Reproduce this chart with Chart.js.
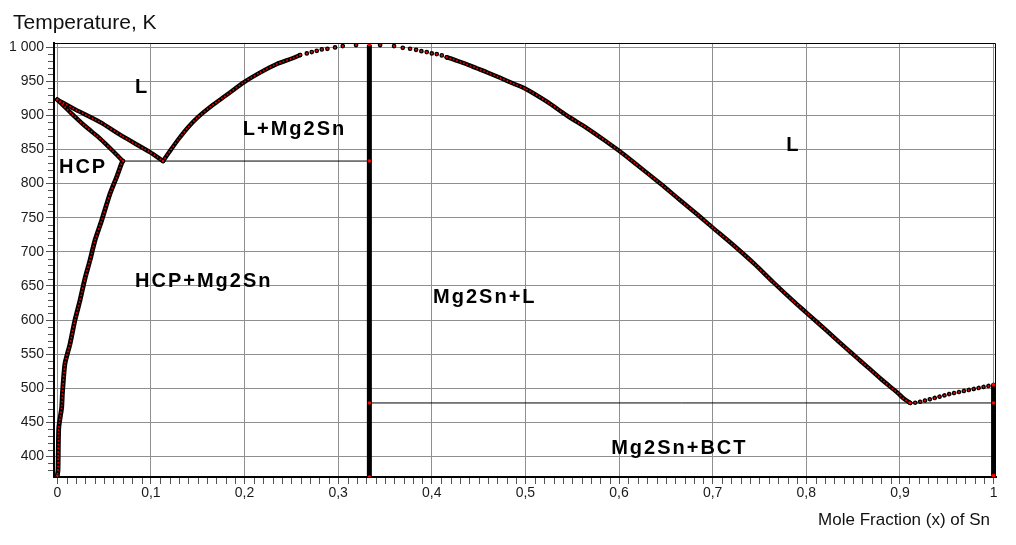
<!DOCTYPE html>
<html><head><meta charset="utf-8">
<script src="https://cdn.jsdelivr.net/npm/chart.js@4.4.1/dist/chart.umd.min.js"></script>
<style>html,body{margin:0;padding:0;background:#fff}#wrap{width:1016px;height:545px;position:relative}</style>
</head><body><div id="wrap"><canvas id="c"></canvas></div>
<script>
// ---- tick values / labels ----
const xTickVals = [0,0.1,0.2,0.3,0.4,0.5,0.6,0.7,0.8,0.9,1];
const xTickLabels = ['0','0,1','0,2','0,3','0,4','0,5','0,6','0,7','0,8','0,9','1'];
const yTickVals = [400,450,500,550,600,650,700,750,800,850,900,950,1000];
const yTickLabels = ['400','450','500','550','600','650','700','750','800','850','900','950','1 000'];

// ---- phase boundaries (mole fraction Sn, temperature K) ----
const liqMgX = [0, 0.02, 0.0457, 0.07, 0.099, 0.113];
const liqMgT = [923, 908, 890, 869, 846, 833];

const solHcpX = [0, 0.015, 0.03, 0.0457, 0.06, 0.07];
const solHcpT = [923, 903, 884, 866, 847, 833];

const solvHcpX = [0.07, 0.0688, 0.0635, 0.0563, 0.0474, 0.0403, 0.035, 0.0296, 0.0243, 0.0189, 0.0136, 0.0082, 0.0055, 0.0047, 0.0016, 0.0008, 0];
const solvHcpT = [833, 830, 810, 785, 746, 717, 688, 661, 629, 600, 565, 536, 493, 472, 442, 380, 372];

const liqLeftX = [0.113, 0.12, 0.13, 0.14, 0.15, 0.165, 0.18, 0.2, 0.217, 0.234, 0.252, 0.2593];
const liqLeftT = [833, 847, 866, 883, 897, 914, 929, 949, 963, 975, 984, 988.3];

const archX = [0.2593, 0.2665, 0.2718, 0.2771, 0.2825, 0.2885, 0.2967, 0.3049, 0.3191, 0.3448, 0.3597, 0.369, 0.3768, 0.3832, 0.3889, 0.3946, 0.40, 0.4053, 0.4107, 0.416];
const archT = [988.3, 990.7, 992.7, 994.6, 996.6, 997.5, 999.5, 1001.5, 1003, 1003, 1001.5, 999, 997.6, 996, 994, 992.7, 990.7, 989.7, 987.8, 985];

const liqSnX = [0.416, 0.42, 0.427, 0.436, 0.448, 0.46, 0.473, 0.487, 0.5, 0.523, 0.544, 0.566, 0.587, 0.6, 0.615, 0.644, 0.665, 0.683, 0.7, 0.722, 0.744, 0.765, 0.786, 0.8, 0.822, 0.843, 0.858, 0.868, 0.882, 0.897, 0.904, 0.911];
const liqSnT = [985, 983.4, 980, 975.5, 969, 962.5, 955, 946.5, 939, 920, 900, 881, 861, 848, 832, 800, 776, 755.5, 735.5, 710, 683, 655, 628, 611, 584, 558, 540, 528, 511, 494, 485, 478.5];

const liqBctX = [0.911, 0.918, 0.932, 0.954, 0.975, 0.9965, 1.0];
const liqBctT = [478.5, 479, 484, 492, 498, 504, 505];

const mg2snX = [1/3, 1/3, 1/3, 1/3];
const mg2snT = [1003.4, 833, 478.5, 370];

const snX = [1, 1, 1];
const snT = [505, 478.5, 372];

const eut1X = [0.07, 1/3];
const eut1T = [833, 833];
const eut2X = [1/3, 1];
const eut2T = [478.5, 478.5];

// ---- region labels (left, baseline in data units) ----
const regionLabels = [
  {text: 'L', x: 0.083, t: 932.5},
  {text: 'L+Mg2Sn', x: 0.1981, t: 870.9},
  {text: 'HCP', x: 0.0018, t: 815.2},
  {text: 'HCP+Mg2Sn', x: 0.083, t: 648},
  {text: 'Mg2Sn+L', x: 0.4014, t: 624.5},
  {text: 'L', x: 0.7785, t: 847.4},
  {text: 'Mg2Sn+BCT', x: 0.5916, t: 403}
];

const FONT = 'Arial, "Liberation Sans", sans-serif';
const pts = (xs, ts) => xs.map((x, i) => ({x: x, y: ts[i]}));
const ends = (ctx) => (ctx.dataIndex === 0 || ctx.dataIndex === ctx.dataset.data.length - 1) ? 1.7 : 0;

function solidCurve(xs, ts, w, tens) {
  return {data: pts(xs, ts), showLine: true, borderColor: '#000', borderWidth: w || 4.4,
    tension: tens === undefined ? 0.3 : tens,
    borderCapStyle: 'round', borderJoinStyle: 'round', pointRadius: ends,
    pointBackgroundColor: '#ff0000', pointBorderColor: '#000', pointBorderWidth: 1, order: 4};
}
function redSpecks(xs, ts, tens) {
  return {data: pts(xs, ts), showLine: true, borderColor: '#ee0000', borderWidth: 1.9,
    tension: tens === undefined ? 0.3 : tens,
    borderCapStyle: 'round', borderDash: [0.01, 3.6], pointRadius: 0, order: 2};
}

const datasets = [
  {data: pts(eut1X, eut1T), showLine: true, borderColor: '#000', borderWidth: 1, pointRadius: 0, order: 6},
  {data: pts(eut2X, eut2T), showLine: true, borderColor: '#000', borderWidth: 1, pointRadius: 0, order: 6},
  solidCurve(liqMgX, liqMgT, 4.4, 0.2), redSpecks(liqMgX, liqMgT, 0.2),
  solidCurve(solHcpX, solHcpT, 4.4, 0.2), redSpecks(solHcpX, solHcpT, 0.2),
  solidCurve(solvHcpX, solvHcpT, 4.8, 0.2), redSpecks(solvHcpX, solvHcpT, 0.2),
  solidCurve(liqLeftX, liqLeftT), redSpecks(liqLeftX, liqLeftT),
  solidCurve(liqSnX, liqSnT), redSpecks(liqSnX, liqSnT),
  {data: pts(archX, archT), showLine: false, pointRadius: 1.7, pointBorderWidth: 1.3,
   pointBackgroundColor: '#ff0000', pointBorderColor: '#000', order: 1},
  {data: pts(liqBctX, liqBctT), showLine: true, borderColor: '#000', borderWidth: 4.6,
   borderCapStyle: 'round', borderDash: [0.01, 5], pointRadius: 0, order: 4},
  {data: pts(liqBctX, liqBctT), showLine: true, borderColor: '#ff0000', borderWidth: 1.9,
   borderCapStyle: 'round', borderDash: [0.01, 5], pointRadius: 0, order: 2},
  {data: pts(mg2snX, mg2snT), showLine: true, borderColor: '#000', borderWidth: 5, pointRadius: 1.8,
   pointBackgroundColor: '#ff0000', pointBorderColor: '#ff0000', pointBorderWidth: 0, order: 3},
  {data: pts(snX, snT), showLine: true, borderColor: '#000', borderWidth: 5, pointRadius: 1.8,
   pointBackgroundColor: '#ff0000', pointBorderColor: '#ff0000', pointBorderWidth: 0, order: 3}
];

const decor = {
  id: 'decor',
  afterDraw(chart) {
    const {ctx, chartArea: a, scales: {x, y}} = chart;
    ctx.save();
    // top & right frame
    ctx.strokeStyle = '#000'; ctx.lineWidth = 1;
    ctx.beginPath();
    ctx.moveTo(a.left, a.top + 0.5); ctx.lineTo(a.right - 0.5, a.top + 0.5); ctx.lineTo(a.right - 0.5, a.bottom);
    ctx.stroke();
    // minor ticks
    ctx.strokeStyle = '#555'; ctx.lineWidth = 1;
    ctx.beginPath();
    for (let v = 380; v <= 1000; v += 10) {
      if (v % 50 === 0) continue;
      const py = Math.round(y.getPixelForValue(v)) + 0.5;
      ctx.moveTo(a.left - 6, py); ctx.lineTo(a.left - 1, py);
    }
    for (let i = 1; i < 100; i++) {
      if (i % 10 === 0) continue;
      const px = Math.round(x.getPixelForValue(i / 100)) + 0.5;
      ctx.moveTo(px, a.bottom + 1); ctx.lineTo(px, a.bottom + 7);
    }
    ctx.stroke();
    // axis titles
    ctx.fillStyle = '#111';
    ctx.textBaseline = 'alphabetic';
    ctx.font = '21px ' + FONT;
    ctx.textAlign = 'left';
    ctx.fillText('Temperature, K', 13, 29);
    ctx.font = '17px ' + FONT;
    ctx.textAlign = 'right';
    ctx.fillText('Mole Fraction (x) of Sn', 990, 525);
    // region labels
    ctx.textAlign = 'left';
    ctx.fillStyle = '#000';
    ctx.font = 'bold 20px ' + FONT;
    if ('letterSpacing' in ctx) ctx.letterSpacing = '2px';
    regionLabels.forEach(l => {
      ctx.fillText(l.text, x.getPixelForValue(l.x), y.getPixelForValue(l.t));
    });
    ctx.restore();
  }
};

new Chart(document.getElementById('c'), {
  type: 'scatter',
  data: {datasets: datasets},
  options: {
    responsive: true, maintainAspectRatio: false, animation: false,
    layout: {padding: {top: 43, right: 20, left: 0, bottom: 0}},
    plugins: {legend: {display: false}, tooltip: {enabled: false}},
    scales: {
      x: {
        type: 'linear', min: -0.0035, max: 1.0026,
        afterBuildTicks: s => { s.ticks = xTickVals.map(v => ({value: v})); },
        afterFit: s => { s.height = 68; },
        grid: {color: '#8f8f8f', lineWidth: 1, tickLength: 7, tickColor: '#555'},
        border: {display: true, color: '#000', width: 2},
        ticks: {autoSkip: false, maxRotation: 0, padding: 1, color: '#1a1a1a',
          font: {family: FONT, size: 14}, callback: (v, i) => xTickLabels[i]}
      },
      y: {
        type: 'linear', min: 370, max: 1006,
        afterBuildTicks: s => { s.ticks = yTickVals.map(v => ({value: v})); },
        afterFit: s => { s.width = 54; },
        grid: {color: '#8f8f8f', lineWidth: 1, tickLength: 8, tickColor: '#555'},
        border: {display: true, color: '#000', width: 2},
        ticks: {autoSkip: false, padding: 2, color: '#1a1a1a',
          font: {family: FONT, size: 14}, callback: (v, i) => yTickLabels[i]}
      }
    }
  },
  plugins: [decor]
});
</script>
</body></html>
